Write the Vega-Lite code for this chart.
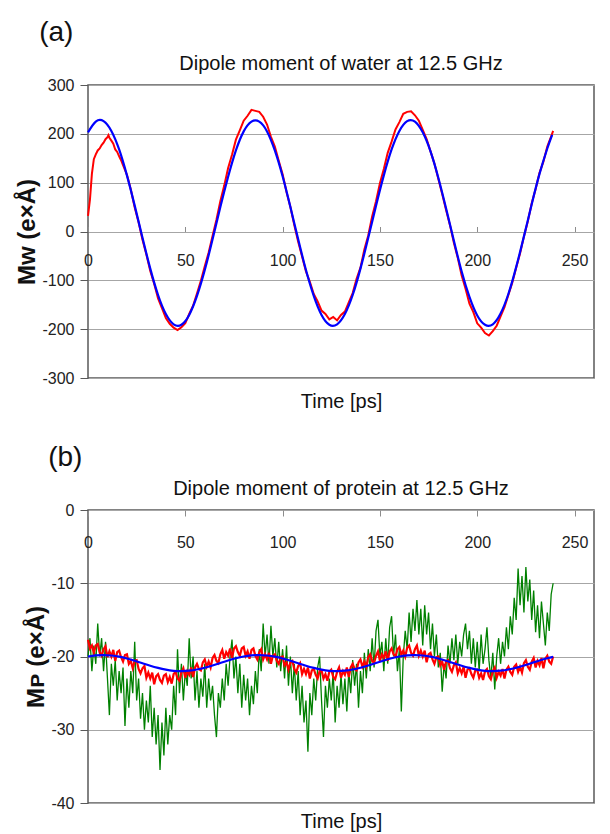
{
"$schema": "https://vega.github.io/schema/vega-lite/v6.json",
"background": "white",
"padding": {"left": 15, "top": 19, "right": 4, "bottom": 0},
"spacing": 31,
"config": {
  "font": "Liberation Sans",
  "view": {"stroke": "#595959", "strokeWidth": 1.5},
  "axis": {"labelFontSize": 16, "labelColor": "#222222", "labelFont": "Liberation Sans", "titleColor": "#111111", "labelFlush": false, "labelOverlap": false, "domain": false, "labelExpr": "replace(datum.label, '−', '-')"},
  "title": {"color": "#111111", "fontWeight": "normal", "font": "Liberation Sans"}
},
"datasets": {
  "water": [
    {"t":0,"m":32},{"t":1,"m":65},{"t":2,"m":118},{"t":3,"m":148},{"t":4,"m":158},{"t":5,"m":166},{"t":6,"m":170},{"t":7,"m":177},{"t":8,"m":182},{"t":9,"m":189},{"t":10,"m":193},{"t":10.5,"m":197},{"t":11,"m":192},{"t":12,"m":186},{"t":13,"m":180},{"t":14,"m":168},{"t":15,"m":163},{"t":16,"m":154},{"t":17,"m":146},{"t":18,"m":136},{"t":19,"m":126},{"t":20,"m":116},
    {"t":22,"m":86},{"t":24,"m":49},{"t":26,"m":19},{"t":28,"m":-17},{"t":30,"m":-47},{"t":32,"m":-81},{"t":34,"m":-107},{"t":36,"m":-137},{"t":38,"m":-157},{"t":40,"m":-177},{"t":42,"m":-189},{"t":44,"m":-197},{"t":46,"m":-202},{"t":48,"m":-196},{"t":50,"m":-188},{"t":52,"m":-169},{"t":54,"m":-152},{"t":56,"m":-127},{"t":58,"m":-101},{"t":60,"m":-71},{"t":62,"m":-43},{"t":64,"m":-9},{"t":66,"m":24},{"t":68,"m":62},{"t":70,"m":94},{"t":72,"m":130},{"t":74,"m":157},{"t":76,"m":188},{"t":78,"m":207},{"t":80,"m":227},{"t":82,"m":237},{"t":84,"m":249},{"t":86,"m":247},{"t":88,"m":245},{"t":90,"m":235},{"t":92,"m":219},{"t":94,"m":194},{"t":96,"m":174},{"t":98,"m":145},{"t":100,"m":117},{"t":102,"m":81},{"t":104,"m":50},{"t":106,"m":13},{"t":108,"m":-21},{"t":110,"m":-51},{"t":112,"m":-82},{"t":114,"m":-103},{"t":116,"m":-128},{"t":118,"m":-143},{"t":120,"m":-162},{"t":122,"m":-169},{"t":124,"m":-180},{"t":126,"m":-175},{"t":128,"m":-182},{"t":130,"m":-171},{"t":132,"m":-164},{"t":134,"m":-145},{"t":136,"m":-126},{"t":138,"m":-97},{"t":140,"m":-74},{"t":142,"m":-37},{"t":144,"m":-8},{"t":146,"m":31},{"t":148,"m":62},{"t":150,"m":99},{"t":152,"m":128},{"t":154,"m":161},{"t":156,"m":184},{"t":158,"m":209},{"t":160,"m":224},{"t":162,"m":241},{"t":164,"m":245},{"t":166,"m":246},{"t":168,"m":238},{"t":170,"m":227},{"t":172,"m":208},{"t":174,"m":189},{"t":176,"m":164},{"t":178,"m":139},{"t":180,"m":108},{"t":182,"m":77},{"t":184,"m":44},{"t":186,"m":13},{"t":188,"m":-23},{"t":190,"m":-54},{"t":192,"m":-90},{"t":194,"m":-117},{"t":196,"m":-148},{"t":198,"m":-165},{"t":200,"m":-188},{"t":202,"m":-197},{"t":204,"m":-208},{"t":206,"m":-213},{"t":208,"m":-204},{"t":210,"m":-193},{"t":212,"m":-174},{"t":214,"m":-155},{"t":216,"m":-130},{"t":218,"m":-105},{"t":220,"m":-74},{"t":222,"m":-45},{"t":224,"m":-10},{"t":226,"m":21},{"t":228,"m":58},{"t":230,"m":87},{"t":232,"m":120},{"t":234,"m":143},{"t":236,"m":174},{"t":238,"m":195},{"t":239,"m":206}
  ],
  "water_fit": [
    {"t":0,"m":203},{"t":4,"m":225},{"t":8,"m":226},{"t":12,"m":206},{"t":16,"m":168},{"t":20,"m":115},{"t":24,"m":53},{"t":28,"m":-13},{"t":32,"m":-76},{"t":36,"m":-130},{"t":40,"m":-169},{"t":44,"m":-190},{"t":48,"m":-191},{"t":52,"m":-171},{"t":56,"m":-132},{"t":60,"m":-79},{"t":64,"m":-16},{"t":68,"m":50},{"t":72,"m":112},{"t":76,"m":166},{"t":80,"m":205},{"t":84,"m":225},{"t":88,"m":225},{"t":92,"m":205},{"t":96,"m":166},{"t":100,"m":113},{"t":104,"m":50},{"t":108,"m":-16},{"t":112,"m":-79},{"t":116,"m":-132},{"t":120,"m":-171},{"t":124,"m":-191},{"t":128,"m":-190},{"t":132,"m":-169},{"t":136,"m":-130},{"t":140,"m":-76},{"t":144,"m":-13},{"t":148,"m":53},{"t":152,"m":115},{"t":156,"m":168},{"t":160,"m":206},{"t":164,"m":226},{"t":168,"m":225},{"t":172,"m":203},{"t":176,"m":164},{"t":180,"m":110},{"t":184,"m":47},{"t":188,"m":-19},{"t":192,"m":-82},{"t":196,"m":-134},{"t":200,"m":-172},{"t":204,"m":-191},{"t":208,"m":-190},{"t":212,"m":-168},{"t":216,"m":-128},{"t":220,"m":-73},{"t":224,"m":-10},{"t":228,"m":56},{"t":232,"m":118},{"t":236,"m":170},{"t":238.5,"m":198}
  ],
  "protein_fit": [
    {"t":0,"m":-20.0},{"t":4,"m":-19.85},{"t":8,"m":-19.8},{"t":12,"m":-19.86},{"t":16,"m":-20.02},{"t":20,"m":-20.27},{"t":24,"m":-20.58},{"t":28,"m":-20.92},{"t":32,"m":-21.26},{"t":36,"m":-21.56},{"t":40,"m":-21.8},{"t":44,"m":-21.95},{"t":48,"m":-22.0},{"t":52,"m":-21.94},{"t":56,"m":-21.78},{"t":60,"m":-21.53},{"t":64,"m":-21.22},{"t":68,"m":-20.88},{"t":72,"m":-20.54},{"t":76,"m":-20.24},{"t":80,"m":-20.0},{"t":84,"m":-19.85},{"t":88,"m":-19.8},{"t":92,"m":-19.86},{"t":96,"m":-20.02},{"t":100,"m":-20.27},{"t":104,"m":-20.58},{"t":108,"m":-20.92},{"t":112,"m":-21.26},{"t":116,"m":-21.56},{"t":120,"m":-21.8},{"t":124,"m":-21.95},{"t":128,"m":-22.0},{"t":132,"m":-21.94},{"t":136,"m":-21.78},{"t":140,"m":-21.53},{"t":144,"m":-21.22},{"t":148,"m":-20.88},{"t":152,"m":-20.54},{"t":156,"m":-20.24},{"t":160,"m":-20.0},{"t":164,"m":-19.85},{"t":168,"m":-19.8},{"t":172,"m":-19.86},{"t":176,"m":-20.02},{"t":180,"m":-20.27},{"t":184,"m":-20.58},{"t":188,"m":-20.92},{"t":192,"m":-21.26},{"t":196,"m":-21.56},{"t":200,"m":-21.8},{"t":204,"m":-21.95},{"t":208,"m":-22.0},{"t":212,"m":-21.94},{"t":216,"m":-21.78},{"t":220,"m":-21.53},{"t":224,"m":-21.22},{"t":228,"m":-20.88},{"t":232,"m":-20.54},{"t":236,"m":-20.24},{"t":239,"m":-20.05}
  ],
  "protein": [
    {"t":0,"s1":-17.7,"s2":-20},{"t":1,"s1":-18.9,"s2":-17.5},{"t":2,"s1":-18.5,"s2":-22},{"t":3,"s1":-19.5,"s2":-18.5},{"t":4,"s1":-18.5,"s2":-21},{"t":5,"s1":-18.3,"s2":-15.5},{"t":6,"s1":-19.4,"s2":-20},{"t":7,"s1":-19.9,"s2":-17.5},{"t":8,"s1":-19.0,"s2":-22},{"t":9,"s1":-18.6,"s2":-18},
    {"t":10,"s1":-20.1,"s2":-23},{"t":11,"s1":-19.3,"s2":-28},{"t":12,"s1":-20.0,"s2":-21},{"t":13,"s1":-19.1,"s2":-24},{"t":14,"s1":-20.6,"s2":-20.5},{"t":15,"s1":-19.4,"s2":-26},{"t":16,"s1":-19.2,"s2":-22},{"t":17,"s1":-20.1,"s2":-25},{"t":18,"s1":-20.7,"s2":-21.5},{"t":19,"s1":-19.8,"s2":-29.5},
    {"t":20,"s1":-19.7,"s2":-23},{"t":21,"s1":-21.0,"s2":-27},{"t":22,"s1":-20.6,"s2":-22},{"t":23,"s1":-21.6,"s2":-25},{"t":24,"s1":-20.6,"s2":-18},{"t":25,"s1":-20.5,"s2":-26},{"t":26,"s1":-21.7,"s2":-23},{"t":27,"s1":-22.3,"s2":-28.5},{"t":28,"s1":-21.6,"s2":-25},{"t":29,"s1":-21.3,"s2":-30},
    {"t":30,"s1":-22.9,"s2":-26},{"t":31,"s1":-22.2,"s2":-29},{"t":32,"s1":-23.0,"s2":-24},{"t":33,"s1":-22.2,"s2":-31},{"t":34,"s1":-23.8,"s2":-27},{"t":35,"s1":-22.7,"s2":-32},{"t":36,"s1":-22.4,"s2":-28},{"t":37,"s1":-23.2,"s2":-35.5},{"t":38,"s1":-23.6,"s2":-29},{"t":39,"s1":-22.6,"s2":-33.5},
    {"t":40,"s1":-22.4,"s2":-27},{"t":41,"s1":-23.5,"s2":-32},{"t":42,"s1":-22.8,"s2":-28},{"t":43,"s1":-23.7,"s2":-30},{"t":44,"s1":-22.4,"s2":-24},{"t":45,"s1":-22.1,"s2":-28},{"t":46,"s1":-23.0,"s2":-19},{"t":47,"s1":-23.3,"s2":-25},{"t":48,"s1":-22.2,"s2":-21},{"t":49,"s1":-21.6,"s2":-26},
    {"t":50,"s1":-22.9,"s2":-22},{"t":51,"s1":-22.0,"s2":-24},{"t":52,"s1":-22.5,"s2":-17.5},{"t":53,"s1":-21.5,"s2":-23},{"t":54,"s1":-22.8,"s2":-20},{"t":55,"s1":-21.5,"s2":-26},{"t":56,"s1":-21.0,"s2":-22},{"t":57,"s1":-21.7,"s2":-27},{"t":58,"s1":-21.9,"s2":-23},{"t":59,"s1":-20.8,"s2":-25.5},
    {"t":60,"s1":-20.4,"s2":-21},{"t":61,"s1":-21.4,"s2":-27},{"t":62,"s1":-20.7,"s2":-23},{"t":63,"s1":-21.5,"s2":-26},{"t":64,"s1":-20.2,"s2":-24},{"t":65,"s1":-19.8,"s2":-28},{"t":66,"s1":-20.6,"s2":-31},{"t":67,"s1":-20.9,"s2":-25},{"t":68,"s1":-19.7,"s2":-27},{"t":69,"s1":-19.1,"s2":-23},
    {"t":70,"s1":-20.3,"s2":-26},{"t":71,"s1":-19.4,"s2":-21},{"t":72,"s1":-19.9,"s2":-24},{"t":73,"s1":-18.9,"s2":-20},{"t":74,"s1":-20.2,"s2":-17.7},{"t":75,"s1":-18.9,"s2":-23},{"t":76,"s1":-18.6,"s2":-20},{"t":77,"s1":-19.4,"s2":-25},{"t":78,"s1":-19.9,"s2":-21},{"t":79,"s1":-18.9,"s2":-27},
    {"t":80,"s1":-18.7,"s2":-22.5},{"t":81,"s1":-19.9,"s2":-26},{"t":82,"s1":-19.3,"s2":-23},{"t":83,"s1":-20.3,"s2":-28},{"t":84,"s1":-19.1,"s2":-24},{"t":85,"s1":-18.9,"s2":-26.5},{"t":86,"s1":-19.9,"s2":-22},{"t":87,"s1":-20.4,"s2":-25},{"t":88,"s1":-19.4,"s2":-19},{"t":89,"s1":-19.0,"s2":-22},
    {"t":90,"s1":-20.4,"s2":-15.5},{"t":91,"s1":-19.7,"s2":-20},{"t":92,"s1":-20.4,"s2":-17},{"t":93,"s1":-19.5,"s2":-21},{"t":94,"s1":-21.0,"s2":-15.8},{"t":95,"s1":-19.9,"s2":-20},{"t":96,"s1":-19.7,"s2":-17.5},{"t":97,"s1":-20.6,"s2":-21.5},{"t":98,"s1":-21.0,"s2":-18},{"t":99,"s1":-20.1,"s2":-22},
    {"t":100,"s1":-20.0,"s2":-19},{"t":101,"s1":-21.2,"s2":-23},{"t":102,"s1":-20.8,"s2":-18.5},{"t":103,"s1":-21.8,"s2":-24},{"t":104,"s1":-20.8,"s2":-20},{"t":105,"s1":-20.6,"s2":-25},{"t":106,"s1":-21.7,"s2":-21},{"t":107,"s1":-22.2,"s2":-26},{"t":108,"s1":-21.3,"s2":-22},{"t":109,"s1":-20.9,"s2":-28},
    {"t":110,"s1":-22.4,"s2":-24},{"t":111,"s1":-21.7,"s2":-29},{"t":112,"s1":-22.4,"s2":-26},{"t":113,"s1":-21.5,"s2":-33},{"t":114,"s1":-23.0,"s2":-25},{"t":115,"s1":-21.9,"s2":-28},{"t":116,"s1":-21.7,"s2":-23},{"t":117,"s1":-22.5,"s2":-26},{"t":118,"s1":-23.0,"s2":-21.5},{"t":119,"s1":-22.0,"s2":-20},
    {"t":120,"s1":-21.9,"s2":-26},{"t":121,"s1":-23.0,"s2":-31},{"t":122,"s1":-22.4,"s2":-24},{"t":123,"s1":-23.3,"s2":-27},{"t":124,"s1":-22.1,"s2":-23},{"t":125,"s1":-21.8,"s2":-26},{"t":126,"s1":-22.8,"s2":-22},{"t":127,"s1":-23.1,"s2":-29},{"t":128,"s1":-22.1,"s2":-24},{"t":129,"s1":-21.5,"s2":-27},
    {"t":130,"s1":-22.9,"s2":-22.5},{"t":131,"s1":-22.0,"s2":-26.5},{"t":132,"s1":-22.5,"s2":-23},{"t":133,"s1":-21.5,"s2":-27.5},{"t":134,"s1":-22.8,"s2":-22},{"t":135,"s1":-21.5,"s2":-25},{"t":136,"s1":-21.0,"s2":-20.5},{"t":137,"s1":-21.7,"s2":-24},{"t":138,"s1":-21.9,"s2":-21},{"t":139,"s1":-20.8,"s2":-27},
    {"t":140,"s1":-20.4,"s2":-22},{"t":141,"s1":-21.4,"s2":-25},{"t":142,"s1":-20.7,"s2":-19.5},{"t":143,"s1":-21.4,"s2":-23},{"t":144,"s1":-20.1,"s2":-19},{"t":145,"s1":-19.7,"s2":-22},{"t":146,"s1":-20.6,"s2":-17.5},{"t":147,"s1":-20.9,"s2":-21.5},{"t":148,"s1":-19.9,"s2":-16.5},{"t":149,"s1":-19.3,"s2":-15},
    {"t":150,"s1":-20.6,"s2":-20},{"t":151,"s1":-19.7,"s2":-18},{"t":152,"s1":-20.2,"s2":-22},{"t":153,"s1":-19.3,"s2":-17.5},{"t":154,"s1":-20.6,"s2":-21},{"t":155,"s1":-19.3,"s2":-16},{"t":156,"s1":-18.9,"s2":-14.5},{"t":157,"s1":-19.7,"s2":-20},{"t":158,"s1":-20.0,"s2":-17},{"t":159,"s1":-19.0,"s2":-22},
    {"t":160,"s1":-18.7,"s2":-19},{"t":161,"s1":-19.8,"s2":-27.5},{"t":162,"s1":-19.2,"s2":-20},{"t":163,"s1":-20.0,"s2":-16.5},{"t":164,"s1":-18.8,"s2":-19},{"t":165,"s1":-18.5,"s2":-14},{"t":166,"s1":-19.5,"s2":-18},{"t":167,"s1":-19.9,"s2":-13.5},{"t":168,"s1":-19.0,"s2":-16.5},{"t":169,"s1":-18.5,"s2":-12.3},
    {"t":170,"s1":-19.9,"s2":-17},{"t":171,"s1":-19.2,"s2":-13.5},{"t":172,"s1":-20.0,"s2":-18.5},{"t":173,"s1":-19.2,"s2":-13},{"t":174,"s1":-20.8,"s2":-17},{"t":175,"s1":-19.7,"s2":-14},{"t":176,"s1":-19.5,"s2":-19},{"t":177,"s1":-20.4,"s2":-15.5},{"t":178,"s1":-21.0,"s2":-20},{"t":179,"s1":-20.1,"s2":-17},
    {"t":180,"s1":-20.0,"s2":-21.5},{"t":181,"s1":-21.2,"s2":-19.5},{"t":182,"s1":-20.7,"s2":-24.8},{"t":183,"s1":-21.8,"s2":-21},{"t":184,"s1":-20.7,"s2":-23},{"t":185,"s1":-20.5,"s2":-18.5},{"t":186,"s1":-21.6,"s2":-21},{"t":187,"s1":-22.1,"s2":-17.5},{"t":188,"s1":-21.2,"s2":-20.5},{"t":189,"s1":-20.8,"s2":-17},
    {"t":190,"s1":-22.3,"s2":-21},{"t":191,"s1":-21.6,"s2":-18},{"t":192,"s1":-22.3,"s2":-20},{"t":193,"s1":-21.4,"s2":-17},{"t":194,"s1":-22.9,"s2":-15.5},{"t":195,"s1":-21.8,"s2":-19},{"t":196,"s1":-21.6,"s2":-16.5},{"t":197,"s1":-22.4,"s2":-21},{"t":198,"s1":-22.9,"s2":-17.5},{"t":199,"s1":-21.9,"s2":-21.5},
    {"t":200,"s1":-21.8,"s2":-18},{"t":201,"s1":-22.9,"s2":-22},{"t":202,"s1":-22.3,"s2":-17},{"t":203,"s1":-23.2,"s2":-21},{"t":204,"s1":-22.0,"s2":-19},{"t":205,"s1":-21.7,"s2":-16},{"t":206,"s1":-22.7,"s2":-20.5},{"t":207,"s1":-23.1,"s2":-23},{"t":208,"s1":-22.0,"s2":-19.5},{"t":209,"s1":-21.5,"s2":-24.5},
    {"t":210,"s1":-22.9,"s2":-20},{"t":211,"s1":-22.1,"s2":-17.5},{"t":212,"s1":-22.6,"s2":-21},{"t":213,"s1":-21.7,"s2":-18},{"t":214,"s1":-23.0,"s2":-20},{"t":215,"s1":-21.8,"s2":-16},{"t":216,"s1":-21.4,"s2":-19},{"t":217,"s1":-22.1,"s2":-14.5},{"t":218,"s1":-22.5,"s2":-17},{"t":219,"s1":-21.4,"s2":-12},
    {"t":220,"s1":-21.1,"s2":-15},{"t":221,"s1":-22.1,"s2":-8},{"t":222,"s1":-21.4,"s2":-13},{"t":223,"s1":-22.2,"s2":-9},{"t":224,"s1":-20.9,"s2":-14},{"t":225,"s1":-20.5,"s2":-7.8},{"t":226,"s1":-21.4,"s2":-12.5},{"t":227,"s1":-21.8,"s2":-9.5},{"t":228,"s1":-20.7,"s2":-15},{"t":229,"s1":-20.2,"s2":-11},
    {"t":230,"s1":-21.5,"s2":-16.7},{"t":231,"s1":-20.6,"s2":-13},{"t":232,"s1":-21.2,"s2":-17.5},{"t":233,"s1":-20.2,"s2":-12.5},{"t":234,"s1":-21.6,"s2":-15.5},{"t":235,"s1":-20.3,"s2":-18.5},{"t":236,"s1":-19.9,"s2":-14},{"t":237,"s1":-20.7,"s2":-16.5},{"t":238,"s1":-21.0,"s2":-11.5},{"t":239,"s1":-20.0,"s2":-10}
  ]
},
"vconcat": [
  {
    "title": {"text": "(a)", "anchor": "start", "frame": "bounds", "fontSize": 28, "dx": 24, "offset": 6},
    "vconcat": [
      {
        "width": 506, "height": 293,
        "title": {"text": "Dipole moment of water at 12.5 GHz", "fontSize": 20, "offset": 3},
        "layer": [
          {
            "data": {"name": "water"},
            "mark": {"type": "line", "color": "#ff0000", "strokeWidth": 2},
            "encoding": {
              "x": {"field": "t", "type": "quantitative", "scale": {"domain": [0, 250]},
                    "axis": {"title": "Time [ps]", "orient": "bottom", "offset": -146.5, "values": [0, 50, 100, 150, 200, 250], "tickSize": -5, "tickColor": "#8c8c8c", "labelPadding": 26, "grid": false, "titleFontSize": 20, "titleFontWeight": "normal", "titleY": 170, "titleBaseline": "middle"}},
              "y": {"field": "m", "type": "quantitative", "scale": {"domain": [-300, 300]},
                    "axis": {"title": "Mᴡ (e×Å)", "values": [-300, -200, -100, 0, 100, 200, 300], "tickSize": 8, "tickColor": "#595959", "labelPadding": 6, "grid": true, "gridColor": "#a6a6a6", "titleFontSize": 24, "titleFontWeight": "bold", "titlePadding": 2}}
            }
          },
          {
            "data": {"name": "water_fit"},
            "mark": {"type": "line", "color": "#0000ff", "strokeWidth": 2.2, "interpolate": "natural"},
            "encoding": {
              "x": {"field": "t", "type": "quantitative"},
              "y": {"field": "m", "type": "quantitative"}
            }
          }
        ]
      }
    ]
  },
  {
    "title": {"text": "(b)", "anchor": "start", "frame": "bounds", "fontSize": 28, "dx": 24, "offset": 6},
    "vconcat": [
      {
        "width": 506, "height": 293,
        "title": {"text": "Dipole moment of protein at 12.5 GHz", "fontSize": 20, "offset": 3},
        "layer": [
          {
            "data": {"name": "protein"},
            "mark": {"type": "line", "color": "#008000", "strokeWidth": 1.3},
            "encoding": {
              "x": {"field": "t", "type": "quantitative", "scale": {"domain": [0, 250]},
                    "axis": {"title": "Time [ps]", "orient": "bottom", "offset": -293, "values": [0, 50, 100, 150, 200, 250], "tickSize": 6, "tickColor": "#8c8c8c", "labelPadding": 18, "grid": false, "titleFontSize": 20, "titleFontWeight": "normal", "titleY": 311, "titleBaseline": "middle"}},
              "y": {"field": "s2", "type": "quantitative", "scale": {"domain": [-40, 0]},
                    "axis": {"title": "Mᴘ (e×Å)", "values": [-40, -30, -20, -10, 0], "tickSize": 8, "tickColor": "#595959", "labelPadding": 6, "grid": true, "gridColor": "#a6a6a6", "titleFontSize": 24, "titleFontWeight": "bold", "titlePadding": 2}}
            }
          },
          {
            "data": {"name": "protein"},
            "mark": {"type": "line", "color": "#ff0000", "strokeWidth": 2.2},
            "encoding": {
              "x": {"field": "t", "type": "quantitative"},
              "y": {"field": "s1", "type": "quantitative"}
            }
          },
          {
            "data": {"name": "protein_fit"},
            "mark": {"type": "line", "color": "#0000ff", "strokeWidth": 2.2, "interpolate": "natural"},
            "encoding": {
              "x": {"field": "t", "type": "quantitative"},
              "y": {"field": "m", "type": "quantitative"}
            }
          }
        ]
      }
    ]
  }
]
}
